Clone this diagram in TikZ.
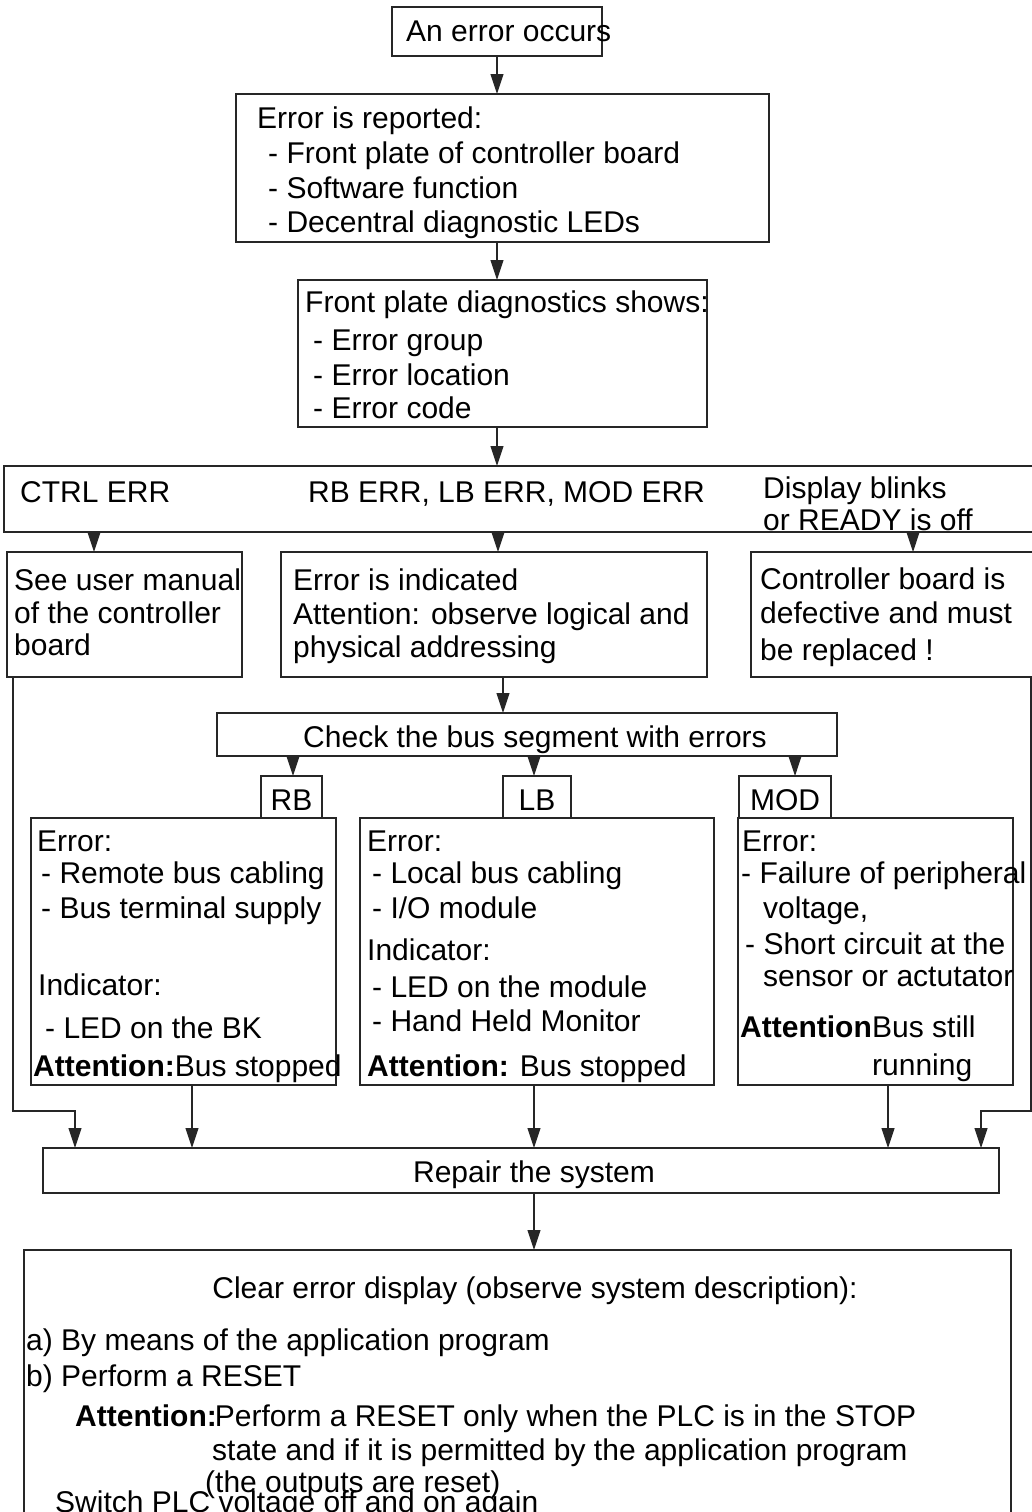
\documentclass[tikz,border=0pt]{standalone}
\usepackage{fontspec}
\setmainfont{Liberation Sans}
\usetikzlibrary{arrows.meta}
\newcommand\fsz{\fontsize{30}{34}\selectfont}
\newcommand\bx[5]{\node[box,minimum width={#4pt-#2pt},minimum height={#5pt-#3pt}] (#1) at (#2,#3) {};}
\begin{document}
\begin{tikzpicture}[x=1pt,y=-1pt,
  box/.style={draw=black!85,line width=1.2pt,rectangle,inner sep=0pt,outer sep=0pt,anchor=north west},
  txt/.style={anchor=base west,inner sep=0pt,font=\fsz},
  ctxt/.style={anchor=base,inner sep=0pt,font=\fsz},
  arr/.style={draw=black!85,line width=1.1pt,-{Triangle[length=20pt,width=13pt]}}]
\useasboundingbox (0,0) rectangle (1032,1512);
% boxes
\bx{b1}{392}{7}{602}{56}
\bx{b2}{236}{94}{769}{242}
\bx{b3}{298}{280}{707}{427}
\bx{b4}{4}{466}{1045}{532}
\bx{b5a}{7}{552}{242}{677}
\bx{b5b}{281}{552}{707}{677}
\bx{b5c}{751}{552}{1045}{677}
\bx{chk}{217}{713}{837}{756}
\bx{rb}{261}{776}{322}{818}
\bx{lb}{503}{776}{571}{818}
\bx{mod}{739}{776}{831}{818}
\bx{drb}{31}{818}{336}{1085}
\bx{dlb}{360}{818}{714}{1085}
\bx{dmod}{738}{818}{1013}{1085}
\bx{rep}{43}{1148}{999}{1193}
\bx{clr}{24}{1250}{1011}{1530}
% texts
\node[txt] (t1) at (406,42) {An error occurs};
\node[txt] (t2a) at (257,128) {Error is reported:};
\node[txt] (t2b) at (268,163) {- Front plate of controller board};
\node[txt] (t2c) at (268,198) {- Software function};
\node[txt] (t2d) at (268,232) {- Decentral diagnostic LEDs};
\node[txt] (t3a) at (305,312) {Front plate diagnostics shows:};
\node[txt] (t3b) at (313,350) {- Error group};
\node[txt] (t3c) at (313,385) {- Error location};
\node[txt] (t3d) at (313,418) {- Error code};
\node[txt] (t4a) at (20,502) {CTRL ERR};
\node[txt] (t4b) at (308,502) {RB ERR, LB ERR, MOD ERR};
\node[txt] (t4c) at (763,498) {Display blinks};
\node[txt] (t4d) at (763,530) {or READY is off};
\node[txt] (t5a1) at (14,590) {See user manual};
\node[txt] (t5a2) at (14,623) {of the controller};
\node[txt] (t5a3) at (14,655) {board};
\node[txt] (t5b1) at (293,590) {Error is indicated};
\node[txt] (t5b2) at (293,624) {Attention: observe logical and};
\node[txt] (t5b3) at (293,657) {physical addressing};
\node[txt] (t5c1) at (760,589) {Controller board is};
\node[txt] (t5c2) at (760,623) {defective and must};
\node[txt] (t5c3) at (760,660) {be replaced !};
\node[ctxt] (tchk) at (535,747) {Check the bus segment with errors};
\node[ctxt] (trb) at (291.5,810) {RB};
\node[ctxt] (tlb) at (537,810) {LB};
\node[ctxt] (tmod) at (785,810) {MOD};
% RB detail
\node[txt] (r1) at (37,851) {Error:};
\node[txt] (r2) at (41,883) {- Remote bus cabling};
\node[txt] (r3) at (41,918) {- Bus terminal supply};
\node[txt] (r4) at (38,995) {Indicator:};
\node[txt] (r5) at (45,1038) {- LED on the BK};
\node[txt] (r6) at (33,1076) {\textbf{Attention:}Bus stopped};
% LB detail
\node[txt] (l1) at (367,851) {Error:};
\node[txt] (l2) at (372,883) {- Local bus cabling};
\node[txt] (l3) at (372,918) {- I/O module};
\node[txt] (l4) at (367,960) {Indicator:};
\node[txt] (l5) at (372,997) {- LED on the module};
\node[txt] (l6) at (372,1031) {- Hand Held Monitor};
\node[txt] (l7) at (367,1076) {\textbf{Attention:} Bus stopped};
% MOD detail
\node[txt] (m1) at (742,851) {Error:};
\node[txt] (m2) at (741,883) {- Failure of peripheral};
\node[txt] (m3) at (763,918) {voltage,};
\node[txt] (m4) at (745,954) {- Short circuit at the};
\node[txt] (m5) at (763,986) {sensor or actutator};
\node[txt] (m6) at (740,1037) {\textbf{Attention:}};
\node[txt,fill=white] (m7) at (872,1037) {Bus still};
\node[txt] (m8) at (872,1075) {running};
% repair
\node[ctxt] (trep) at (534,1182) {Repair the system};
% clear
\node[ctxt] (c1) at (535,1298) {Clear error display (observe system description):};
\node[txt] (c2) at (26,1350) {a) By means of the application program};
\node[txt] (c3) at (26,1386) {b) Perform a RESET};
\node[txt] (c4) at (75,1426) {\textbf{Attention:}\kern-2pt Perform a RESET only when the PLC is in the STOP};
\node[txt] (c5) at (212,1460) {state and if it is permitted by the application program};
\node[txt] (c6) at (205,1492) {(the outputs are reset)};
\node[txt] (c7) at (55,1512) {Switch PLC voltage off and on again};
% connectors
\draw[arr] (497,0 |- b1.south) -- (497,0 |- b2.north);
\draw[arr] (497,0 |- b2.south) -- (497,0 |- b3.north);
\draw[arr] (497,0 |- b3.south) -- (497,0 |- b4.north);
\draw[arr] (94,0 |- b4.south) -- (94,0 |- b5a.north);
\draw[arr] (498,0 |- b4.south) -- (498,0 |- b5b.north);
\draw[arr] (913,0 |- b4.south) -- (913,0 |- b5c.north);
\draw[arr] (503,0 |- b5b.south) -- (503,0 |- chk.north);
\draw[arr] (293,0 |- chk.south) -- (293,0 |- rb.north);
\draw[arr] (534,0 |- chk.south) -- (534,0 |- lb.north);
\draw[arr] (795,0 |- chk.south) -- (795,0 |- mod.north);
\draw[arr] (13,0 |- b5a.south) -- (13,1111) -- (75,1111) -- (75,0 |- rep.north);
\draw[arr] (1031,0 |- b5c.south) -- (1031,1111) -- (981,1111) -- (981,0 |- rep.north);
\draw[arr] (192,0 |- drb.south) -- (192,0 |- rep.north);
\draw[arr] (534,0 |- dlb.south) -- (534,0 |- rep.north);
\draw[arr] (888,0 |- dmod.south) -- (888,0 |- rep.north);
\draw[arr] (534,0 |- rep.south) -- (534,0 |- clr.north);
\end{tikzpicture}
\end{document}
